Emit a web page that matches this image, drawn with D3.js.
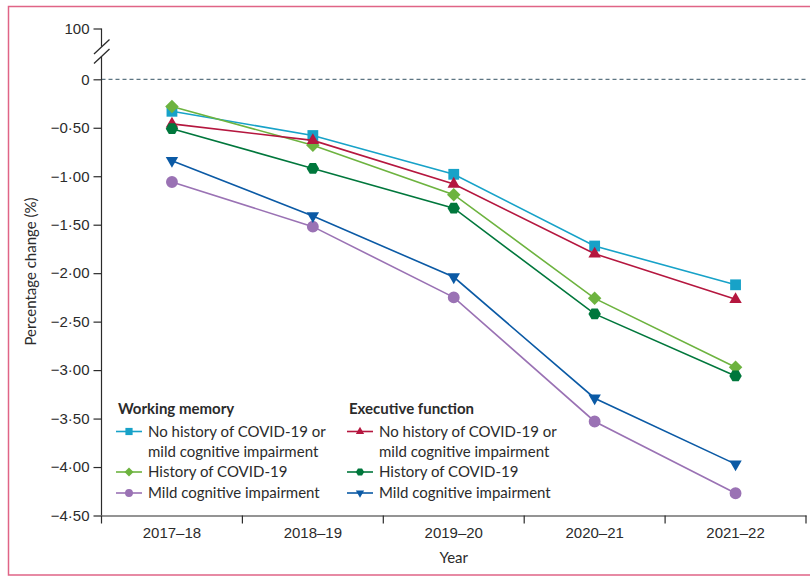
<!DOCTYPE html>
<html>
<head>
<meta charset="utf-8">
<script src="https://cdn.jsdelivr.net/npm/d3@7"></script>
<style>
  html, body { margin: 0; padding: 0; background: #fff; }
  svg { display: block; font-family: Lato, "Open Sans", sans-serif; }
</style>
</head>
<body>
<svg id="chart" width="810" height="576"></svg>
<script>
// Academic years on the x axis
const years = ["2017–18", "2018–19", "2019–20", "2020–21", "2021–22"];

// Working memory: percentage change per year
const wmNoHistory = [-0.33, -0.58, -0.98, -1.72, -2.12];
const wmCovid     = [-0.28, -0.68, -1.19, -2.26, -2.97];
const wmMci       = [-1.06, -1.52, -2.25, -3.53, -4.27];

// Executive function: percentage change per year
const efNoHistory = [-0.46, -0.63, -1.08, -1.80, -2.27];
const efCovid     = [-0.51, -0.92, -1.33, -2.42, -3.06];
const efMci       = [-0.84, -1.41, -2.04, -3.29, -3.97];

// Y axis ticks (100 sits above the axis break)
const yTicks = [100, 0, -0.5, -1, -1.5, -2, -2.5, -3, -3.5, -4, -4.5];

const series = [
  { name: "No history of COVID-19 or|mild cognitive impairment", values: wmNoHistory, color: "#17a2c8", shape: "square",   group: 0 },
  { name: "History of COVID-19",                                   values: wmCovid,     color: "#6db33f", shape: "diamond",  group: 0 },
  { name: "Mild cognitive impairment",                             values: wmMci,       color: "#9a72b4", shape: "circle",   group: 0 },
  { name: "No history of COVID-19 or|mild cognitive impairment", values: efNoHistory, color: "#b5173f", shape: "triUp",    group: 1 },
  { name: "History of COVID-19",                                   values: efCovid,     color: "#00773c", shape: "hexagon",  group: 1 },
  { name: "Mild cognitive impairment",                             values: efMci,       color: "#0b5aa5", shape: "triDown",  group: 1 }
];

const svg = d3.select("#chart");
const ink = "#2b2b2b";
const fs = "15px";

// Outer frame (top, left, bottom edges)
svg.append("path")
  .attr("d", "M812,6.5 H8.5 V575 H812")
  .attr("fill", "none")
  .attr("stroke", "#e06486")
  .attr("stroke-width", 1.5);

const left = 101.5, right = 806, bottom = 515.5;

const x = d3.scaleBand().domain(years).range([left, right]);
// Piecewise scale: the 0..100 span is compressed above the break
const y = d3.scaleLinear().domain([-4.5, 0, 100]).range([bottom, 79.3, 28.5]);

const fmt = v => v === 0 ? "0" : v === 100 ? "100" : "−" + Math.abs(v).toFixed(2).replace(".", "·");

// Zero reference line
svg.append("line")
  .attr("x1", left).attr("x2", right)
  .attr("y1", y(0)).attr("y2", y(0))
  .attr("stroke", "#5d7582").attr("stroke-width", 1.2)
  .attr("stroke-dasharray", "4,3");

// Y axis
const yAxis = svg.append("g")
  .attr("transform", `translate(${left},0)`)
  .call(d3.axisLeft(y).tickValues(yTicks).tickFormat(fmt).tickSize(8).tickPadding(4));
yAxis.select(".domain").remove();
yAxis.selectAll(".tick line").attr("stroke", ink).attr("stroke-width", 1.2);
yAxis.selectAll(".tick text").attr("fill", ink).style("font-size", fs);

// Axis spine drawn in two parts around the break
svg.append("line").attr("x1", left).attr("x2", left).attr("y1", y(100)).attr("y2", 46.5)
  .attr("stroke", ink).attr("stroke-width", 1.2);
svg.append("line").attr("x1", left).attr("x2", left).attr("y1", 56).attr("y2", bottom)
  .attr("stroke", ink).attr("stroke-width", 1.2);
[0, 9.5].forEach(dy => {
  svg.append("line")
    .attr("x1", 94).attr("y1", 54 + dy).attr("x2", 109.5).attr("y2", 39.5 + dy)
    .attr("stroke", ink).attr("stroke-width", 1.3);
});

// X axis
const xAxis = svg.append("g")
  .attr("transform", `translate(0,${bottom})`)
  .call(d3.axisBottom(x).tickSize(0).tickPadding(12));
xAxis.select(".domain").attr("stroke", ink).attr("stroke-width", 1.2);
xAxis.selectAll(".tick text").attr("fill", ink).style("font-size", fs);
// Category boundary ticks
const bounds = years.map(d => x(d)).concat([right]);
svg.append("g").selectAll("line").data(bounds).join("line")
  .attr("x1", d => d).attr("x2", d => d)
  .attr("y1", bottom).attr("y2", bottom + 8)
  .attr("stroke", ink).attr("stroke-width", 1.2);

// Axis titles
svg.append("text")
  .attr("transform", `translate(36,271.5) rotate(-90)`)
  .attr("text-anchor", "middle").attr("fill", ink).style("font-size", fs)
  .text("Percentage change (%)");
svg.append("text")
  .attr("x", (left + right) / 2).attr("y", 563)
  .attr("text-anchor", "middle").attr("fill", ink).style("font-size", fs)
  .text("Year");

// Marker shapes
function markerPath(shape, s) {
  switch (shape) {
    case "square":  return `M${-s},${-s}H${s}V${s}H${-s}Z`;
    case "diamond": { const r = s * 1.25; return `M0,${-r}L${r},0L0,${r}L${-r},0Z`; }
    case "circle":  return d3.symbol(d3.symbolCircle, Math.PI * (s * 1.1) ** 2)();
    case "triUp":   { const r = s * 1.15; return `M0,${-r * 1.15}L${r},${r * 0.6}L${-r},${r * 0.6}Z`; }
    case "triDown": { const r = s * 1.15; return `M0,${r * 1.15}L${r},${-r * 0.6}L${-r},${-r * 0.6}Z`; }
    case "hexagon": {
      const r = s * 1.15;
      const pts = d3.range(6).map(i => [r * Math.cos(i * Math.PI / 3), r * Math.sin(i * Math.PI / 3)]);
      return "M" + pts.join("L") + "Z";
    }
  }
}

const cx = d => x(d) + x.bandwidth() / 2;
const line = d3.line().x(d => cx(d.year)).y(d => y(d.value));

series.forEach(s => {
  const pts = years.map((yr, i) => ({ year: yr, value: s.values[i] }));
  const g = svg.append("g");
  g.append("path").datum(pts)
    .attr("d", line).attr("fill", "none")
    .attr("stroke", s.color).attr("stroke-width", 1.6);
  g.selectAll("path.m").data(pts).join("path").attr("class", "m")
    .attr("transform", d => `translate(${cx(d.year)},${y(d.value)})`)
    .attr("d", markerPath(s.shape, 5.4))
    .attr("fill", s.color);
});

// Legend
const legendCols = [
  { title: "Working memory", x: 116 },
  { title: "Executive function", x: 347 }
];
const rowY = [431.5, 451.5, 472, 493];
legendCols.forEach((col, gi) => {
  const lg = svg.append("g");
  lg.append("text").attr("x", col.x + 2).attr("y", 413.5)
    .attr("fill", ink).style("font-size", fs).style("font-weight", "bold")
    .text(col.title);
  let r = 0;
  series.filter(s => s.group === gi).forEach(s => {
    const yy = rowY[r];
    lg.append("line").attr("x1", col.x).attr("x2", col.x + 26)
      .attr("y1", yy).attr("y2", yy)
      .attr("stroke", s.color).attr("stroke-width", 1.6);
    lg.append("path").attr("transform", `translate(${col.x + 13},${yy})`)
      .attr("d", markerPath(s.shape, 3.6)).attr("fill", s.color);
    const parts = s.name.split("|");
    parts.forEach((p, k) => {
      lg.append("text").attr("x", col.x + 32).attr("y", rowY[r + k] + 5)
        .attr("fill", ink).style("font-size", fs).text(p);
    });
    r += parts.length;
  });
});
</script>
</body>
</html>
